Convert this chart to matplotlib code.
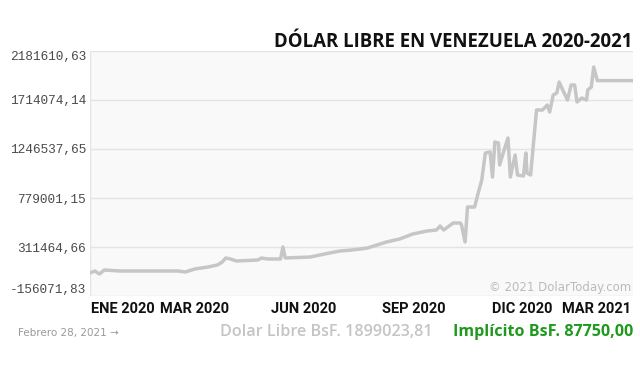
import numpy as np
import pandas as pd
import matplotlib
matplotlib.use("Agg")
from matplotlib import pyplot as plt
import matplotlib.dates as mdates
from matplotlib.transforms import ScaledTranslation

# daily free-market dollar rate (BsF)
fechas = [
    "2019-12-01", "2019-12-05", "2019-12-09", "2019-12-13", "2019-12-26",
    "2020-01-20", "2020-02-13", "2020-02-19", "2020-02-27", "2020-03-09",
    "2020-03-17", "2020-03-21", "2020-03-24", "2020-03-28", "2020-04-02",
    "2020-04-20", "2020-04-23", "2020-04-28", "2020-05-09", "2020-05-11",
    "2020-05-13", "2020-06-03", "2020-06-19", "2020-06-28", "2020-07-08",
    "2020-07-15", "2020-07-21", "2020-07-29", "2020-08-06", "2020-08-17",
    "2020-08-28", "2020-09-09", "2020-09-17", "2020-09-20", "2020-09-23",
    "2020-10-01", "2020-10-07", "2020-10-08", "2020-10-11", "2020-10-13",
    "2020-10-19", "2020-10-22", "2020-10-25", "2020-10-28", "2020-11-01",
    "2020-11-03", "2020-11-05", "2020-11-08", "2020-11-09", "2020-11-12",
    "2020-11-16", "2020-11-18", "2020-11-22", "2020-11-24", "2020-11-29",
    "2020-12-01", "2020-12-02", "2020-12-05", "2020-12-10", "2020-12-15",
    "2020-12-19", "2020-12-21", "2020-12-24", "2020-12-27", "2020-12-29",
    "2021-01-01", "2021-01-05", "2021-01-08", "2021-01-11", "2021-01-13",
    "2021-01-17", "2021-01-21", "2021-01-22", "2021-01-25", "2021-01-27",
    "2021-01-30", "2021-03-01",
]
dolar = [
    63400, 82500, 53900, 92000, 82500,
    82500, 82500, 73000, 101600, 120600,
    139700, 168000, 206500, 197000, 178000,
    187400, 206500, 197000, 197000, 311500,
    206500, 216000, 254200, 273300, 282800,
    292400, 301900, 330500, 359200, 387800,
    435500, 464100, 473700, 511800, 473700,
    540400, 540400, 521400, 359200, 693100,
    693100, 826700, 950700, 1208300, 1217900,
    979300, 1313300, 1303700, 1093800, 1208300,
    1351400, 979300, 1189200, 998400, 988900,
    1208300, 1017500, 998400, 1618600, 1618600,
    1666300, 1599500, 1761700, 1780800, 1885700,
    1809400, 1714000, 1857100, 1857100, 1694900,
    1733100, 1714000, 1809400, 1838000, 2028800,
    1899023.81, 1899023.81,
]

y_ticks = [-156071.83, 311464.66, 779001.15, 1246537.65, 1714074.14, 2181610.63]
x_ticks = ["2020-01-01", "2020-03-01", "2020-06-01", "2020-09-01", "2020-12-01", "2021-03-01"]
x_labels = ["ENE 2020", "MAR 2020", "JUN 2020", "SEP 2020", "DIC 2020", "MAR 2021"]
x_grid = ["2019-12-01", "2020-03-01", "2020-06-01", "2020-09-01", "2020-12-01", "2021-03-01"]

fechas = pd.to_datetime(fechas)

fig = plt.figure(figsize=(6.4, 3.76), dpi=100)
ax = fig.add_axes([90 / 640, 1 - 296 / 376, 543 / 640, 245 / 376])
ax.set_facecolor("#f9f9f9")

ax.plot(fechas, dolar, color="#c6c6c6", linewidth=2.5, solid_joinstyle="round")

ax.set_xlim(pd.Timestamp(x_grid[0]), pd.Timestamp(x_grid[-1]))
ax.set_ylim(y_ticks[0], y_ticks[-1])

# y axis: monospace labels, end labels pushed inside
ax.set_yticks(y_ticks)
ax.set_yticklabels([f"{v:.2f}".replace(".", ",") for v in y_ticks],
                   family="Liberation Mono", fontsize=9.2, color="#4a4a4a")
ylabs = ax.get_yticklabels()
ylabs[0].set_va("bottom")
ylabs[-1].set_va("top")
ax.tick_params(axis="y", length=0, pad=3)

# x axis
ax.set_xticks(pd.to_datetime(x_ticks))
ax.set_xticklabels(x_labels, family=["Liberation Sans Narrow", "Roboto"],
                   fontweight="bold", fontsize=10.5, color="#111111")
ax.tick_params(axis="x", length=0, pad=4)
shift = ScaledTranslation(-4 / 100, 0, fig.dpi_scale_trans)
for lab in ax.get_xticklabels():
    lab.set_transform(lab.get_transform() + shift)
ax.get_xticklabels()[-1].set_ha("right")
ax.get_xticklabels()[-1].set_transform(ax.get_xticklabels()[-1].get_transform()
                                       + ScaledTranslation(2 / 100, 0, fig.dpi_scale_trans))

ax.set_xticks(pd.to_datetime(x_grid), minor=True)
ax.tick_params(axis="x", which="minor", length=0)
ax.grid(True, which="minor", axis="x", color="#e4e4e4", linewidth=1)
ax.grid(True, which="major", axis="y", color="#e4e4e4", linewidth=1)
ax.set_axisbelow(True)
for s in ax.spines.values():
    s.set_visible(False)

ax.text(0.997, 0.035, "© 2021 DolarToday.com", transform=ax.transAxes,
        ha="right", va="center", fontsize=8.5, color="#bbbbbb")

fig.text(632 / 640, 1 - 42 / 376, "DÓLAR LIBRE EN VENEZUELA 2020-2021",
         family="Open Sans", fontweight="bold", fontsize=13.4, color="#111111",
         ha="right", va="center")
fig.text(18 / 640, 1 - 333 / 376, "Febrero 28, 2021 →", fontsize=7.5,
         color="#999999", ha="left", va="center")
fig.text(433 / 640, 1 - 332 / 376, "Dolar Libre BsF. 1899023,81",
         family="Open Sans", fontweight="semibold", fontsize=11.6, color="#c4c4c4",
         ha="right", va="center")
fig.text(633 / 640, 1 - 332 / 376, "Implícito BsF. 87750,00",
         family="Open Sans", fontweight="bold", fontsize=11.6, color="#1f9a1f",
         ha="right", va="center")

fig.savefig("out.png", dpi=100, facecolor="white")
